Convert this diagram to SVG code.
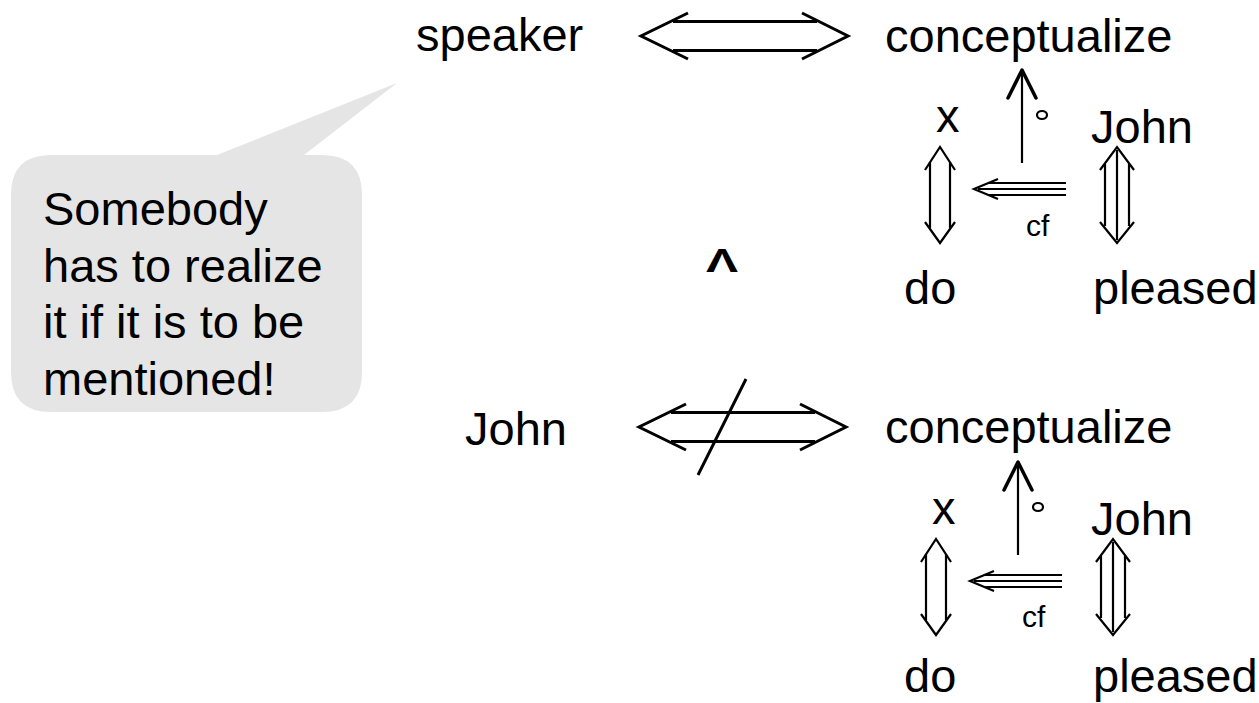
<svg xmlns="http://www.w3.org/2000/svg" width="1259" height="703" viewBox="0 0 1259 703">
<style>
  text { font-family: "Liberation Sans", Arial, sans-serif; fill: #000; }
  .t { font-size: 47px; }
  .s { font-size: 30px; }
  .ln { stroke: #000; fill: none; stroke-width: 2.2; }
  .th { stroke: #000; fill: none; stroke-width: 3; }
  .hd { stroke: #000; fill: none; stroke-width: 3.5; stroke-linecap: round; stroke-linejoin: round; }
</style>
<defs>
  <g id="dbl">
    <line class="th" x1="32" y1="-14.5" x2="176" y2="-14.5"/>
    <line class="th" x1="32" y1="14.5" x2="176" y2="14.5"/>
    <polyline class="th" points="47,-23 0,0 47,23"/>
    <polyline class="th" points="161,-23 207,0 161,23"/>
  </g>
  <g id="cluster">
    <line class="ln" x1="1022" y1="163" x2="1022" y2="72"/>
    <polyline class="hd" points="1008,98 1022,70 1036,98"/>
    <ellipse cx="1042" cy="115" rx="5" ry="4" class="ln"/>
    <line class="ln" x1="930" y1="162" x2="930" y2="228"/>
    <line class="ln" x1="950" y1="162" x2="950" y2="228"/>
    <polyline class="ln" points="925,170 940,147 955,170"/>
    <polyline class="ln" points="925,222 940,243 955,222"/>
    <line class="ln" x1="1105" y1="164" x2="1105" y2="226"/>
    <line class="ln" x1="1117" y1="150" x2="1117" y2="240"/>
    <line class="ln" x1="1129" y1="164" x2="1129" y2="226"/>
    <polyline class="ln" points="1100,170 1117,147 1134,170"/>
    <polyline class="ln" points="1100,222 1117,243 1134,222"/>
    <line class="ln" x1="988" y1="183" x2="1066" y2="183"/>
    <line class="ln" x1="978" y1="189" x2="1066" y2="189"/>
    <line class="ln" x1="988" y1="195" x2="1066" y2="195"/>
    <polyline class="ln" points="998,179 974,189 998,199"/>
  </g>
</defs>

<g id="bubble">
  <path d="M51,155 L217,155 L397,83 L304,155 L322,155 Q362,155 362,195 L362,372 Q362,412 322,412 L51,412 Q11,412 11,372 L11,195 Q11,155 51,155 Z" fill="#e5e5e5"/>
  <text class="t" x="43" y="225">Somebody</text>
  <text class="t" x="43" y="282">has to realize</text>
  <text class="t" x="43" y="338">it if it is to be</text>
  <text class="t" x="43" y="395">mentioned!</text>
</g>

<g id="top-speaker"><text class="t" x="416" y="51">speaker</text></g>
<g id="top-conceptualize"><text class="t" x="885" y="52">conceptualize</text></g>
<g id="top-x"><text class="t" x="936" y="132">x</text></g>
<g id="top-john"><text class="t" x="1091" y="143">John</text></g>
<g id="top-do"><text class="t" x="904" y="304">do</text></g>
<g id="top-pleased"><text class="t" x="1093" y="304">pleased</text></g>
<g id="top-cf"><text class="s" x="1026" y="236">cf</text></g>

<g id="and-sign"><text transform="translate(722,272) scale(1,0.7)" text-anchor="middle" style="font-size:48px;font-weight:bold">Λ</text></g>

<g id="bottom-john"><text class="t" x="465" y="445">John</text></g>
<g id="bottom-conceptualize"><text class="t" x="885" y="443">conceptualize</text></g>
<g id="bottom-x"><text class="t" x="932" y="524">x</text></g>
<g id="bottom-john2"><text class="t" x="1091" y="535">John</text></g>
<g id="bottom-do"><text class="t" x="904" y="692">do</text></g>
<g id="bottom-pleased"><text class="t" x="1093" y="692">pleased</text></g>
<g id="bottom-cf"><text class="s" x="1022" y="627">cf</text></g>

<g id="connectors">
  <use href="#dbl" x="641" y="36"/>
  <use href="#dbl" x="639" y="427"/>
  <line class="th" x1="746" y1="379" x2="698" y2="475"/>
  <use href="#cluster"/>
  <use href="#cluster" x="-4" y="392"/>
</g>
</svg>
